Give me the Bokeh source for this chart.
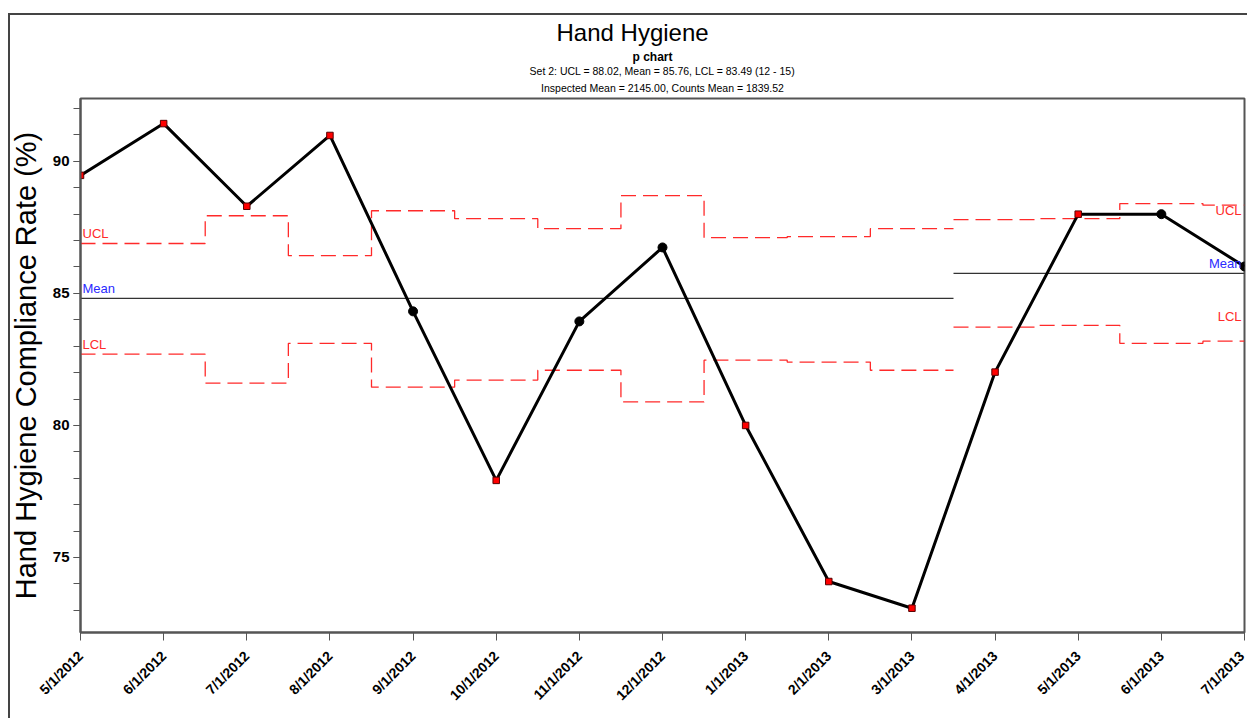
import math
from bokeh.plotting import figure
from bokeh.models import Range1d, FixedTicker, Title
from bokeh.core.properties import value
from bokeh.embed import file_html
from bokeh.resources import INLINE

# ---- data ----
dates = ["5/1/2012", "6/1/2012", "7/1/2012", "8/1/2012", "9/1/2012", "10/1/2012",
         "11/1/2012", "12/1/2012", "1/1/2013", "2/1/2013", "3/1/2013", "4/1/2013",
         "5/1/2013", "6/1/2013", "7/1/2013"]
rate = [89.47, 91.43, 88.30, 90.98, 84.32, 77.92, 83.94, 86.74, 80.00, 74.09,
        73.08, 82.02, 88.00, 88.00, 86.02]
ucl = [86.89, 86.89, 87.94, 86.43, 88.13, 87.83, 87.45, 88.70, 87.11, 87.15,
       87.45, 87.79, 87.83, 88.40, 88.34]
lcl = [82.70, 82.70, 81.60, 83.11, 81.45, 81.72, 82.09, 80.89, 82.47, 82.40,
       82.09, 83.72, 83.79, 83.11, 83.19]
set_id = [1, 1, 1, 1, 1, 1, 1, 1, 1, 1, 1, 2, 2, 2, 2]
set_means = [84.81, 85.76]
y_major = [75, 80, 85, 90]
y_minor = list(range(73, 93))

FONT = "Liberation Sans"
idx = list(range(len(dates)))
n_last = len(dates) - 1

# outer chart frame drawn as CSS background lines behind a transparent border area
frame_bg = ("linear-gradient(#444, #444) 8px 13px / 2px 100% no-repeat, "
            "linear-gradient(#444, #444) 8px 13px / 100% 2px no-repeat, white")

p = figure(frame_width=1164, frame_height=534,
           x_range=Range1d(0, n_last), y_range=Range1d(72.16, 92.38),
           output_backend="svg", toolbar_location=None,
           min_border_left=80, min_border_right=3,
           min_border_top=98, min_border_bottom=86,
           background_fill_color="white", border_fill_color=None,
           styles={"background": frame_bg})

p.grid.visible = False
p.outline_line_color = "#555"
p.outline_line_width = 2

# titles (added bottom-up); offset is measured from the frame's left edge
titles = [
    ("Inspected Mean = 2145.00, Counts Mean = 1839.52", "10.5px", "normal", "center", 0, 9),
    ("Set 2: UCL = 88.02, Mean = 85.76, LCL = 83.49 (12 - 15)", "10.5px", "normal", "center", 0, -2),
    ("p chart", "12px", "bold", "left", 552, 0),
    ("Hand Hygiene", "24px", "normal", "left", 476, 4),
]
for text, size, style, al, off, so in titles:
    p.add_layout(Title(text=text, align=al, text_font=FONT, text_font_size=size,
                       text_font_style=style, offset=off, standoff=so,
                       text_color="black"), "above")

# control limits: step lines per set
for s in sorted(set(set_id)):
    members = [i for i in idx if set_id[i] == s]
    for lim in (ucl, lcl):
        xs, ys = [], []
        for i in members:
            xs += [max(i - 0.5, 0), min(i + 0.5, n_last)]
            ys += [lim[i], lim[i]]
        p.line(xs, ys, line_color="#ff2a2a", line_width=1.3, line_dash="15 7")
    m = set_means[s - 1]
    p.line([max(members[0] - 0.5, 0), min(members[-1] + 0.5, n_last)], [m, m],
           line_color="#333333", line_width=1.2)

# data line
p.line(idx, rate, line_color="black", line_width=3)
out_x = [i for i in idx if rate[i] > ucl[i] or rate[i] < lcl[i]]
in_x = [i for i in idx if i not in out_x]
p.scatter([i for i in in_x], [rate[i] for i in in_x], marker="circle", size=9,
          fill_color="black", line_color="black")
p.scatter([i for i in out_x], [rate[i] for i in out_x], marker="square", size=6.5,
          fill_color="#ff0000", line_color="#550000", line_width=1)

# limit labels
lab_font = value(FONT)
p.text([0, 0], [ucl[0], lcl[0]], text=["UCL", "LCL"], text_color="#ff2a2a",
       text_font=lab_font, text_font_size="13px", text_baseline="bottom",
       x_offset=2, y_offset=-2)
p.text([0], [set_means[0]], text=["Mean"], text_color="#2a2aff",
       text_font=lab_font, text_font_size="13px", text_baseline="bottom",
       x_offset=2, y_offset=-2)
p.text([n_last], [ucl[-1]], text=["UCL"], text_color="#ff2a2a",
       text_font=lab_font, text_font_size="13px", text_baseline="top",
       text_align="right", x_offset=-3, y_offset=-2)
p.text([n_last], [lcl[-1]], text=["LCL"], text_color="#ff2a2a",
       text_font=lab_font, text_font_size="13px", text_baseline="bottom",
       text_align="right", x_offset=-3, y_offset=-17)
p.text([n_last], [set_means[1]], text=["Mean"], text_color="#2a2aff",
       text_font=lab_font, text_font_size="13px", text_baseline="bottom",
       text_align="right", x_offset=-3, y_offset=-2)

# axes
xa = p.xaxis[0]
xa.ticker = FixedTicker(ticks=idx, minor_ticks=[])
xa.major_label_overrides = {i: d for i, d in zip(idx, dates)}
xa.major_label_orientation = math.pi / 4
xa.major_label_text_font = FONT
xa.major_label_text_font_size = "14px"
xa.major_label_text_font_style = "bold"
xa.major_label_text_color = "black"
xa.major_tick_out = 8
xa.major_tick_in = 0
xa.minor_tick_out = 0
xa.axis_line_color = "#555"
xa.axis_line_width = 2
xa.major_tick_line_color = "#555"
xa.major_label_standoff = 13

ya = p.yaxis[0]
ya.ticker = FixedTicker(ticks=y_major, minor_ticks=y_minor)
ya.major_label_text_font = FONT
ya.major_label_text_font_size = "15px"
ya.major_label_text_font_style = "bold"
ya.major_label_text_color = "black"
ya.major_tick_out = 7
ya.major_tick_in = 0
ya.minor_tick_out = 7
ya.minor_tick_in = 0
ya.axis_line_color = "#555"
ya.axis_line_width = 2
ya.major_tick_line_color = "#555"
ya.minor_tick_line_color = "#555"
ya.major_label_standoff = 4
ya.axis_label = "Hand Hygiene Compliance Rate (%)"
ya.axis_label_text_font = FONT
ya.axis_label_text_font_size = "29px"
ya.axis_label_text_font_style = "normal"
ya.axis_label_text_color = "black"
ya.axis_label_standoff = 8

open("out.html", "w").write(file_html(p, INLINE))
